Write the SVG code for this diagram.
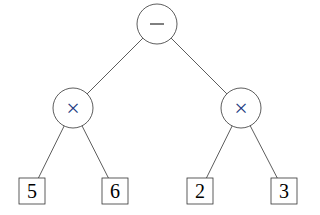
<svg xmlns="http://www.w3.org/2000/svg" width="320" height="215" viewBox="0 0 320 215">
<style>
.e{stroke:#333;stroke-width:0.8;fill:none}
.c{fill:#fff;stroke:#333;stroke-width:0.8}
.t{font-family:"Liberation Serif","DejaVu Serif",serif;font-size:20px;text-anchor:middle;fill:#000}
.op{font-family:"Liberation Serif","DejaVu Serif",serif;font-size:24px;text-anchor:middle;fill:#223a80}
</style>
<rect width="320" height="215" fill="#fff"/>
<g id="edges">
<line class="e" x1="157" y1="24" x2="73" y2="108"/>
<line class="e" x1="157" y1="24" x2="241" y2="108"/>
<line class="e" x1="73" y1="108" x2="32" y2="191"/>
<line class="e" x1="73" y1="108" x2="115" y2="191"/>
<line class="e" x1="241" y1="108" x2="200" y2="191"/>
<line class="e" x1="241" y1="108" x2="284" y2="191"/>
</g>
<g id="root"><circle class="c" cx="157" cy="24" r="20"/><line x1="150" y1="24" x2="164" y2="24" stroke="#000" stroke-width="1"/></g>
<g id="mulL"><circle class="c" cx="73" cy="108" r="20"/><text class="op" x="73" y="116">×</text></g>
<g id="mulR"><circle class="c" cx="241" cy="108" r="20"/><text class="op" x="241" y="116">×</text></g>
<g id="n5"><rect class="c" x="19" y="178" width="26" height="26"/><text class="t" x="32" y="198">5</text></g>
<g id="n6"><rect class="c" x="102" y="178" width="26" height="26"/><text class="t" x="115" y="198">6</text></g>
<g id="n2"><rect class="c" x="187" y="178" width="26" height="26"/><text class="t" x="200" y="198">2</text></g>
<g id="n3"><rect class="c" x="271" y="178" width="26" height="26"/><text class="t" x="284" y="198">3</text></g>
</svg>
